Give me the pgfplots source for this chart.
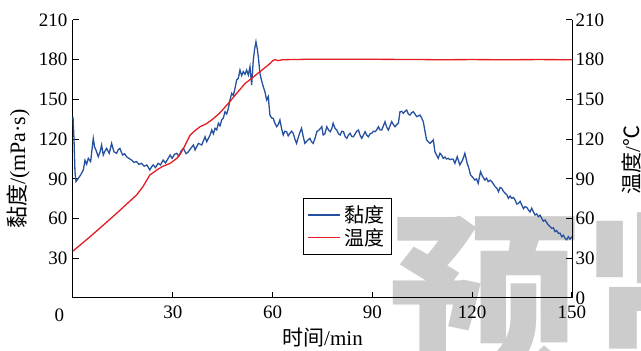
\documentclass[border=0pt]{standalone}
\usepackage{pgfplots}
\pgfplotsset{compat=1.18}
\usepackage{fontspec}
\setmainfont{Liberation Serif}
\newfontfamily\cjk{Noto Sans CJK SC}
\definecolor{vblue}{RGB}{38,80,160}
\definecolor{tred}{RGB}{228,28,36}
\definecolor{wmgray}{RGB}{204,204,204}
\begin{document}
\begin{tikzpicture}
\node[anchor=base west, font=\fontsize{190}{190}\selectfont\cjk\bfseries, text=wmgray, inner sep=0] at (316pt,-75pt) {预览};
\pgfplotsset{
  myax/.style={
    scale only axis, width=499pt, height=278pt,
    xmin=0, xmax=150, ymin=0, ymax=210,
    tick align=inside, major tick length=6pt,
    tick label style={font=\fontsize{19}{19}\selectfont},
    /pgf/number format/assume math mode=true,
    axis line style={line width=1pt, black},
    tick style={line width=1pt, black},
    label style={font=\fontsize{21}{21}\selectfont},
  }
}
\begin{axis}[myax,
  axis x line*=bottom, axis y line*=left,
  xtick={0,30,...,150}, xticklabels={,30,60,90,120,150},
  ytick={0,30,...,210}, yticklabels={,30,60,90,120,150,180,210},
  xticklabel style={yshift=-4pt},
  yticklabel style={xshift=-2pt},
  xlabel={{\cjk 时间}/min}, ylabel={{\cjk 黏度}/(mPa·s)},
  x label style={at={(axis description cs:0.5,-0.144)}, anchor=center},
  y label style={at={(axis description cs:-0.110,0.464)}, anchor=center, font=\fontsize{22}{22}\selectfont},
  clip=false,
]
\addplot[vblue, line width=1.3pt] coordinates {
(0,137) (0.3,120) (0.6,95) (0.9,88) (1.6,90.4) (2.3,93) (3.1,96.7) (3.6,104) (4.1,101) (4.6,105.5)
(5.3,103) (6.1,120.6) (6.5,114) (6.9,111.8) (7.6,106.7) (8.1,110) (8.6,115.6) (9.1,108) (9.6,111) (10.1,113)
(10.9,109.3) (11.6,116.8) (12.3,110.5) (13.1,109.3) (13.6,112) (14.1,113) (14.9,108) (15.5,109) (16.1,106.7) (16.8,105.5)
(17.6,104.2) (18.3,102.5) (19.1,103) (19.8,101) (20.6,101.7) (21.4,99.5) (22.2,100.5) (23.1,96.7) (23.6,99) (24.1,100.5)
(24.8,98.5) (25.6,101.7) (26.3,100.5) (27.1,104.2) (27.8,102) (28.5,105) (29.2,108) (29.8,105.5) (30.5,108.5) (31.2,109.3)
(31.8,107) (32.5,111) (33.2,113) (34.0,109) (34.7,110.5) (35.4,113) (36.2,115.6) (36.7,111.8) (37.7,116.8) (38.7,115.6)
(39.7,121.8) (40.2,118) (40.7,120.6) (41.2,123) (41.7,126.9) (42.2,124) (42.7,128.2) (43.2,127) (43.7,132) (44.2,130)
(44.7,134.5) (45.2,136) (45.7,140.7) (46.2,139) (46.7,143.3) (47.2,149.6) (47.7,154.6) (48.2,153) (48.7,158.4) (49.2,164.7)
(49.7,166) (50.2,172.2) (50.7,168) (51.2,171) (51.7,169) (52.2,172.2) (52.7,168.5) (53.2,174.7) (53.7,160.9) (54.2,179.8)
(54.6,188) (55.0,193.6) (55.4,188) (55.7,182.3) (56.2,169.7) (56.7,164) (57.2,159.6) (57.7,155.8) (58.2,149.6) (58.7,152.1)
(59.2,138.2) (59.7,136) (60.2,135.7) (60.7,132) (61.2,129.4) (61.7,131) (62.2,134.5) (62.7,128) (63.2,123.1) (63.7,126)
(64.2,125.6) (64.7,122.5) (65.2,124.4) (65.7,126) (66.2,124.4) (66.7,120) (67.2,116.8) (67.8,122) (68.2,125) (68.7,128.2)
(69.2,122) (69.7,116.8) (70.5,119) (71.2,120.6) (71.7,118) (72.2,116.8) (72.8,121) (73.3,125.6) (74.0,127) (74.8,129.4)
(75.2,123.1) (75.7,124) (76.3,129.4) (76.8,127) (77.3,125.6) (77.8,128) (78.2,132) (78.8,128) (79.3,126.9) (79.8,124)
(80.3,123.1) (80.8,126) (81.3,125.6) (81.8,122) (82.3,120.6) (82.8,123) (83.3,124.4) (83.8,122) (84.3,121.8) (84.8,124)
(85.3,126) (85.8,126.9) (86.3,123) (86.8,120.6) (87.3,123) (87.8,125.6) (88.3,123) (88.8,121.8) (89.3,124) (89.8,124.4)
(90.3,126) (90.8,125.6) (91.3,127) (91.8,129.4) (92.3,127) (92.8,126.9) (93.3,130) (93.8,133.2) (94.3,129) (94.8,126.9)
(95.3,130) (95.8,133.2) (96.3,131) (96.8,129.4) (97.3,131) (97.8,132) (98.3,140.7) (98.8,141) (99.3,139.5) (99.8,141)
(100.3,142) (100.8,139) (101.3,138.2) (101.8,140) (102.3,140.7) (102.8,139) (103.3,137) (103.8,137.5) (104.3,138.2) (104.8,136)
(105.3,133.2) (105.8,126) (106.3,119.4) (106.8,118) (107.3,116.8) (107.8,118) (108.3,119.4) (108.8,110.5) (109.3,108) (109.8,105.5)
(110.3,109.3) (110.8,108) (111.3,105.5) (111.8,106.5) (112.3,105) (112.8,105.5) (113.3,104.5) (114.0,105) (114.3,104.7) (114.8,101.7)
(115.5,106.7) (116.3,100.5) (117.1,104.2) (117.8,109.3) (118.5,101.7) (119.0,98) (119.5,92.9) (120.2,91) (120.8,89.1) (121.3,90)
(121.8,86.6) (122.5,95.4) (123.1,92) (123.8,89.1) (124.3,90.5) (124.8,87.9) (125.4,89) (125.9,87.9) (126.4,86) (126.9,84.1)
(127.4,83) (127.9,80.3) (128.4,83.5) (128.9,82.8) (129.4,80.5) (129.9,79.1) (130.4,78) (130.9,75.3) (131.4,77) (131.9,75.3)
(132.4,76) (132.9,74) (133.4,71) (133.9,71.5) (134.4,73) (134.9,70.3) (135.4,67.5) (135.9,69) (136.4,68.5) (136.9,66.5)
(137.4,65) (137.9,67.8) (138.4,65) (138.9,62.7) (139.4,63.5) (139.9,61.4) (140.4,62.5) (140.9,60.2) (141.4,58) (141.9,58.9)
(142.4,57) (142.9,55.1) (143.4,54) (143.9,52.6) (144.4,53) (144.9,50.1) (145.4,51) (145.9,48.8) (146.4,49) (146.9,46.3)
(147.4,47.5) (147.9,45.1) (148.4,44) (148.9,46.3) (149.4,44.5) (150,46.3)
};
\node[font=\fontsize{19}{19}\selectfont, anchor=center] at (axis cs:0,0) [xshift=-13.5pt, yshift=-17pt] {0};
\end{axis}
\begin{axis}[myax,
  axis x line=none, axis y line*=right,
  ytick={0,30,...,210},
  ylabel={{\cjk 温度}/{\cjk ℃}},
  y label style={at={(axis description cs:1.12,0.496)}, anchor=center},
  legend style={at={(0.461,0.36)}, anchor=north west, draw=black, line width=0.8pt, fill=white,
    font=\fontsize{20}{20}\selectfont\cjk, inner xsep=4pt, inner ysep=5.5pt, row sep=0pt,
    nodes={inner xsep=3.5pt, inner ysep=2pt}},
  legend cell align=left,
  legend image code/.code={\draw[#1, line width=1.3pt] (0pt,0pt) -- (32pt,0pt);},
]
\addlegendimage{vblue}
\addlegendentry{黏度}
\addplot[tred, line width=1.3pt] coordinates {
(0,35.5) (5,46) (9.1,55) (14,66) (19.1,77.8) (21,84) (23.1,92.9) (25.2,96.7) (27,99.5) (29.2,101.7)
(31.2,105.5) (32.2,108.5) (33.2,113) (34.2,118) (35.2,123) (36.7,126.5) (38.2,129.4) (40,131.5) (41.7,134.5) (44,139.5)
(46.7,147) (49,154) (51.7,162) (54,166.5) (56.7,172) (58.7,176) (60.2,179.5) (60.7,180) (61.7,179.3) (63,180)
(70,180.3) (80,180.4) (90,180.3) (100,180.2) (110,180) (120,180.1) (130,180) (140,180.1) (150,180)
};
\addlegendentry{温度}
\end{axis}
\pgfresetboundingbox
\path[use as bounding box] (-73pt,-53pt) rectangle (568pt,298pt);
\end{tikzpicture}
\end{document}
